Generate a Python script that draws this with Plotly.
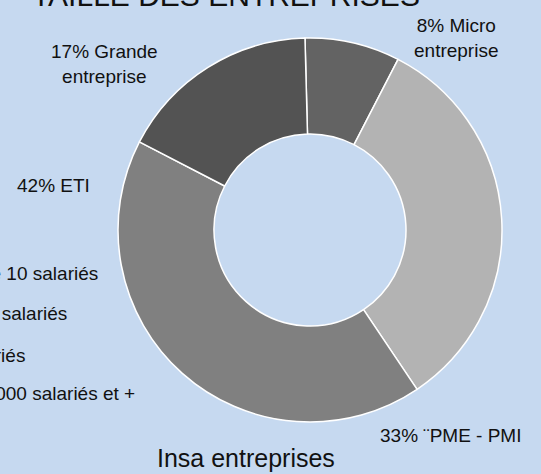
import plotly.graph_objects as go

# =========================
# DATA
# =========================
categories = ["Micro entreprise", "¨PME - PMI", "ETI", "Grande entreprise"]
label_names = ["Micro<br>entreprise", "¨PME - PMI", "ETI", "Grande<br>entreprise"]
percentages = [8, 33, 42, 17]
legend_labels = [
    "Moins de 10 salariés",
    "De 10 à 250 salariés",
    "De 250 à 5000 salariés",
    "Plus de 5000 salariés et +",
]
slice_colors = ["#636363", "#b3b3b3", "#808080", "#535353"]

title_text = "TAILLE DES ENTREPRISES"
footer_text = "Insa entreprises"

# =========================
# LAYOUT HELPERS (pixel -> paper)
# =========================
W, H = 541, 474
BG = "#c6d9f0"
FONT = "Liberation Sans, Arial, sans-serif"


def px(x):
    return x / W


def py(y):
    return 1 - y / H


cx, cy, r = 310, 230, 192

fig = go.Figure(
    go.Pie(
        labels=categories,
        values=percentages,
        sort=False,
        direction="clockwise",
        rotation=-1.5,
        hole=0.5,
        textinfo="none",
        marker=dict(colors=slice_colors, line=dict(color="white", width=1.5)),
        domain=dict(x=[px(cx - r), px(cx + r)], y=[py(cy + r), py(cy - r)]),
        showlegend=False,
    )
)

# data labels (placed by hand like in the original)
label_pos = [(456, 38), (450, 435), (53, 185), (104, 64)]
annotations = []
for (x, y), pct, name in zip(label_pos, percentages, label_names):
    annotations.append(dict(
        x=px(x), y=py(y), xref="paper", yref="paper",
        text=f"{pct}% {name}", showarrow=False,
        xanchor="center", yanchor="middle",
        font=dict(family=FONT, size=19, color="#111111"),
    ))

# legend, clipped at the left edge of the picture
legend_pos = [(100, 273), (69, 313), (27, 355), (137, 393)]
for (x, y), lab in zip(legend_pos, legend_labels):
    annotations.append(dict(
        x=px(x), y=py(y), xref="paper", yref="paper",
        text=lab, showarrow=False,
        xanchor="right", yanchor="middle",
        font=dict(family=FONT, size=19, color="#111111"),
    ))

# title (cut at top) and footer
annotations.append(dict(
    x=px(226), y=py(-5), xref="paper", yref="paper",
    text=title_text, showarrow=False,
    xanchor="center", yanchor="middle",
    font=dict(family=FONT, size=30, color="#111111"),
))
annotations.append(dict(
    x=px(246), y=py(458), xref="paper", yref="paper",
    text=footer_text, showarrow=False,
    xanchor="center", yanchor="middle",
    font=dict(family=FONT, size=25, color="#111111"),
))

fig.update_layout(
    width=W,
    height=H,
    margin=dict(l=0, r=0, t=0, b=0),
    paper_bgcolor=BG,
    plot_bgcolor=BG,
    annotations=annotations,
)

fig.write_html(
    "out.html",
    config={"displayModeBar": False},
    post_script="document.body.style.margin='0';document.body.style.overflow='hidden';",
)
